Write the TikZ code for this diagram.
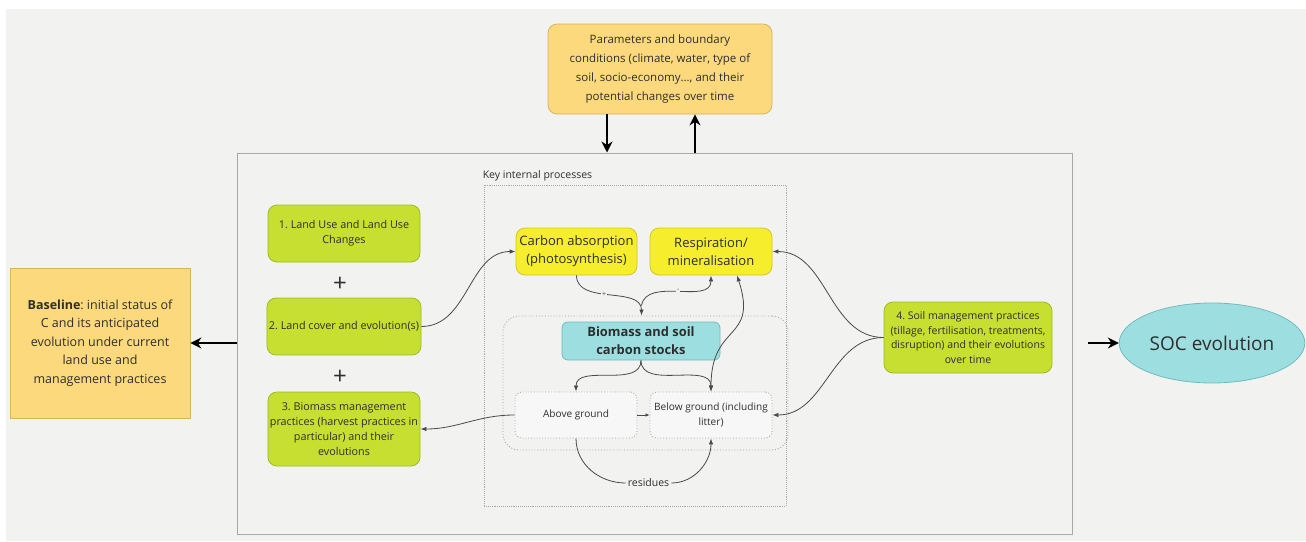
\documentclass[tikz,border=0pt]{standalone}
\usepackage{fontspec}
\setmainfont{Open Sans}
\usetikzlibrary{arrows.meta,shapes.geometric,calc}
\frenchspacing

\definecolor{bgcol}{HTML}{F2F2F1}
\definecolor{txt}{HTML}{2E2E2E}
\definecolor{orangefill}{HTML}{FBD97C}
\definecolor{orangeline}{HTML}{D8B45E}
\definecolor{greenfill}{HTML}{C6DF30}
\definecolor{greenline}{HTML}{9FBB2A}
\definecolor{yellowfill}{HTML}{F6EE2C}
\definecolor{yellowline}{HTML}{D2C62A}
\definecolor{cyanfill}{HTML}{9DDFE1}
\definecolor{cyanline}{HTML}{6FBCBF}
\definecolor{frame}{HTML}{A8A8A8}
\definecolor{wire}{HTML}{4A4A4A}

\tikzset{
  box/.style={rounded corners=9pt, draw, line width=0.8pt, align=center,
    text=txt, inner sep=2pt},
  orangebox/.style={box, fill=orangefill, draw=orangeline},
  greenbox/.style={box, fill=greenfill, draw=greenline,
    minimum width=152pt, font=\fontsize{10.8}{15}\selectfont},
  yellowbox/.style={box, fill=yellowfill, draw=yellowline,
    minimum width=121pt, minimum height=47pt,
    font=\fontsize{13}{18}\selectfont},
  groundbox/.style={box, rounded corners=7pt, fill=bgcol!60!white,
    draw=frame, dotted, line width=0.9pt,
    minimum width=122pt, minimum height=46pt,
    font=\fontsize{10.1}{14.5}\selectfont},
  conn/.style={draw=wire, line width=0.8pt, -{Latex[length=6pt,width=4.5pt]}},
  bigarrow/.style={draw=black, line width=2.6pt, -{Stealth[length=11pt,width=11pt]}},
  plus/.style={text=txt, font=\fontsize{24}{24}\selectfont},
  sign/.style={fill=bgcol, inner sep=1pt, text=wire, font=\fontsize{7}{7}\selectfont},
}

\begin{document}
\begin{tikzpicture}[x=1pt,y=-1pt]
  % page and backdrop
  \useasboundingbox (0,0) rectangle (1306,541);
  \fill[white] (0,0) rectangle (1306,541);
  \fill[bgcol] (6,9) rectangle (1306,541);

  % system boundary
  \node[draw=frame, line width=1pt, minimum width=835pt, minimum height=381pt,
    inner sep=0pt] (outer) at (654.5,343.5) {};

  % external drivers
  \node[orangebox, minimum width=224pt, minimum height=90pt,
    font=\fontsize{11.5}{19}\selectfont] (params) at (660,69)
    {Parameters and boundary\\conditions (climate, water, type of\\soil,
     socio-economy\dots, and their\\potential changes over time};

  \node[orangebox, rounded corners=0pt, minimum width=180pt, minimum height=150pt,
    font=\fontsize{12.5}{18.5}\selectfont] (baseline) at (100,343)
    {\textbf{Baseline}: initial status of\\C and its anticipated\\evolution under
     current\\land use and\\management practices};

  \node[ellipse, draw=cyanline, fill=cyanfill, line width=0.8pt,
    minimum width=184pt, minimum height=80pt, text=txt,
    font=\fontsize{19}{22}\selectfont] (soc) at (1212,343) {SOC evolution};
  \coordinate (socin) at (1088,343);

  % land-use drivers
  \node[greenbox, minimum height=57pt] (g1) at (344,233.5)
    {1. Land Use and Land Use\\Changes};
  \node[plus] (p1) at (340,284) {+};
  \node[greenbox, minimum height=57pt] (g2) at (344,326.5)
    {2. Land cover and evolution(s)};
  \node[plus] (p2) at (340,377) {+};
  \node[greenbox, minimum height=74pt] (g3) at (344,429)
    {3. Biomass management\\practices (harvest practices in\\particular) and
     their\\evolutions};
  \node[greenbox, minimum width=168pt, minimum height=71pt,
    font=\fontsize{10.5}{14.5}\selectfont] (g4) at (968,337.5)
    {4. Soil management practices\\(tillage, fertilisation, treatments,\\
     disruption) and their evolutions\\over time};

  % internal processes frame
  \node[draw=frame, densely dotted, line width=0.9pt, minimum width=302pt,
    minimum height=321pt, inner sep=0pt] (key) at (635,345.5) {};
  \node[anchor=south west, inner sep=0pt, text=txt,
    font=\fontsize{10.5}{12}\selectfont] (keylabel) at ($(key.north west)+(-1,-3)$)
    {Key internal processes};

  \node[yellowbox] (carbon) at (576.5,251.5) {Carbon absorption\\(photosynthesis)};
  \node[yellowbox, minimum width=122pt] (resp) at (711,251.5)
    {Respiration/\\mineralisation};

  \node[draw=frame, dotted, line width=0.9pt, rounded corners=16pt,
    minimum width=285pt, minimum height=134pt, inner sep=0pt] (stocks)
    at (645.5,383) {};
  \node[box, rounded corners=6pt, fill=cyanfill, draw=cyanline,
    minimum width=158pt, minimum height=38pt,
    font=\fontsize{12.9}{18}\selectfont\bfseries] (biomass) at (641,341)
    {Biomass and soil\\carbon stocks};
  \node[groundbox] (above) at (576,415) {Above ground};
  \node[groundbox] (below) at (711,415) {Below ground (including\\litter)};

  \node[inner sep=2pt, text=txt, font=\fontsize{10.5}{12}\selectfont] (res)
    at (648.5,483) {residues};

  % exchanges with the outside
  \coordinate (pdown) at ($(params.south)+(-53,0)$);
  \coordinate (pup) at ($(params.south)+(35,0)$);
  \draw[bigarrow] (pdown) -- (pdown |- outer.north);
  \draw[bigarrow] (pup |- outer.north) -- (pup);
  \draw[bigarrow] (outer.west |- baseline.east) -- (baseline.east);
  \draw[bigarrow] (socin) -- (soc.west);

  % internal flows
  \draw[conn] (g2.east) to[out=0, in=180] (carbon.west);
  \draw[conn] (carbon.south) to[out=-90, in=90]
    node[sign, pos=0.45] {+} ($(stocks.north)+(-4,0)$);
  \draw[conn] ($(stocks.north)+(-4,-10)$) to[out=80, in=-90]
    node[sign, pos=0.5] {-} (resp.south);
  \draw[conn, {Latex[length=6pt,width=4.5pt]}-{Latex[length=6pt,width=4.5pt]}]
    ($(resp.south)+(26,0)$) to[out=-72, in=90, looseness=1.5] (below.north);
  \draw[conn] (biomass.south) to[out=-90, in=90] (above.north);
  \draw[conn] (biomass.south) to[out=-90, in=90] (below.north);
  \draw[conn, -{Latex[length=4pt,width=3.5pt]}] (above.east) -- (below.west);
  \draw[draw=wire, line width=0.8pt] (above.south) to[out=-90, in=180] (res.west);
  \draw[conn] (res.east) to[out=0, in=-90] (below.south);
  \draw[conn] (above.west) to[out=180, in=0] (g3.east);
  \draw[conn] (g4.west) to[out=180, in=0] (resp.east);
  \draw[conn] (g4.west) to[out=180, in=0] (below.east);
\end{tikzpicture}
\end{document}
